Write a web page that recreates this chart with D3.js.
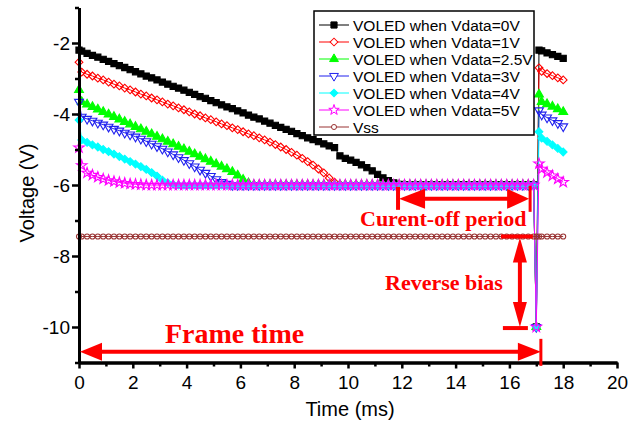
<!DOCTYPE html>
<html>
<head>
<meta charset="utf-8">
<script src="https://cdn.jsdelivr.net/npm/d3@7"></script>
<style>
  body { margin: 0; background: #fff; }
  text { font-family: "Liberation Sans", Arial, sans-serif; }
</style>
</head>
<body>
<div class="canvas"></div>
<script>
// time axis (ms), shared by every series
const time = [0, 0.1, 0.3, 0.5, 0.7, 0.9, 1.1, 1.3, 1.5, 1.7,
  1.9, 2.1, 2.3, 2.5, 2.7, 2.9, 3.1, 3.3, 3.5, 3.7,
  3.9, 4.1, 4.3, 4.5, 4.7, 4.9, 5.1, 5.3, 5.5, 5.7,
  5.9, 6.1, 6.3, 6.5, 6.7, 6.9, 7.1, 7.3, 7.5, 7.7,
  7.9, 8.1, 8.3, 8.5, 8.7, 8.9, 9.1, 9.3, 9.5, 9.7,
  9.9, 10.1, 10.3, 10.5, 10.7, 10.9, 11.1, 11.3, 11.5, 11.7,
  11.9, 12.1, 12.3, 12.5, 12.7, 12.9, 13.1, 13.3, 13.5, 13.7,
  13.9, 14.1, 14.3, 14.5, 14.7, 14.9, 15.1, 15.3, 15.5, 15.7,
  15.9, 16.1, 16.3, 16.5, 16.7, 16.9, 17.0, 17.1, 17.2, 17.4,
  17.6, 17.8, 18.0];

const vdata0 = [-2.2, -2.23, -2.29, -2.35, -2.4, -2.46, -2.52, -2.58, -2.64, -2.69,
  -2.75, -2.81, -2.87, -2.93, -2.98, -3.04, -3.1, -3.16, -3.22, -3.27,
  -3.33, -3.39, -3.45, -3.51, -3.56, -3.62, -3.68, -3.74, -3.8, -3.85,
  -3.91, -3.97, -4.03, -4.09, -4.14, -4.2, -4.26, -4.32, -4.38, -4.43,
  -4.49, -4.55, -4.61, -4.67, -4.72, -4.78, -4.84, -4.9, -4.95, -5.18,
  -5.25, -5.3, -5.36, -5.43, -5.51, -5.6, -5.7, -5.8, -5.88, -5.94,
  -5.98, -6, -6, -6, -6, -6, -6, -6, -6, -6,
  -6, -6, -6, -6, -6, -6, -6, -6, -6, -6,
  -6, -6, -6, -6, -6, -6, -10, -2.2, -2.22, -2.28,
  -2.33, -2.38, -2.43];

const vdata1 = [-2.54, -2.82, -2.88, -2.93, -2.99, -3.04, -3.1, -3.16, -3.21, -3.27,
  -3.32, -3.38, -3.44, -3.49, -3.55, -3.6, -3.66, -3.72, -3.77, -3.83,
  -3.88, -3.94, -4.0, -4.05, -4.11, -4.16, -4.22, -4.28, -4.33, -4.39,
  -4.44, -4.5, -4.56, -4.61, -4.67, -4.73, -4.79, -4.86, -4.93, -5.0,
  -5.08, -5.16, -5.25, -5.34, -5.44, -5.55, -5.66, -5.8, -5.92, -5.98,
  -6, -6, -6, -6, -6, -6, -6, -6, -6, -6,
  -6, -6, -6, -6, -6, -6, -6, -6, -6, -6,
  -6, -6, -6, -6, -6, -6, -6, -6, -6, -6,
  -6, -6, -6, -6, -6, -6, -10, -2.7, -2.8, -2.86,
  -2.92, -2.98, -3.04];

const vdata25 = [-3.32, -3.66, -3.73, -3.8, -3.87, -3.94, -4.01, -4.08, -4.15, -4.22,
  -4.29, -4.36, -4.43, -4.5, -4.57, -4.64, -4.71, -4.78, -4.85, -4.92,
  -4.99, -5.06, -5.13, -5.2, -5.27, -5.34, -5.41, -5.48, -5.55, -5.63,
  -5.73, -5.85, -5.95, -6, -6, -6, -6, -6, -6, -6,
  -6, -6, -6, -6, -6, -6, -6, -6, -6, -6,
  -6, -6, -6, -6, -6, -6, -6, -6, -6, -6,
  -6, -6, -6, -6, -6, -6, -6, -6, -6, -6,
  -6, -6, -6, -6, -6, -6, -6, -6, -6, -6,
  -6, -6, -6, -6, -6, -6, -10, -3.45, -3.66, -3.72,
  -3.79, -3.86, -3.94];

const vdata3 = [-3.66, -4.08, -4.14, -4.19, -4.25, -4.3, -4.36, -4.42, -4.47, -4.53,
  -4.58, -4.64, -4.7, -4.77, -4.84, -4.91, -4.98, -5.06, -5.14, -5.22,
  -5.3, -5.39, -5.48, -5.57, -5.66, -5.75, -5.84, -5.92, -5.97, -6,
  -6, -6, -6, -6, -6, -6, -6, -6, -6, -6,
  -6, -6, -6, -6, -6, -6, -6, -6, -6, -6,
  -6, -6, -6, -6, -6, -6, -6, -6, -6, -6,
  -6, -6, -6, -6, -6, -6, -6, -6, -6, -6,
  -6, -6, -6, -6, -6, -6, -6, -6, -6, -6,
  -6, -6, -6, -6, -6, -6, -10, -3.9, -4.02, -4.1,
  -4.18, -4.26, -4.35];

const vdata4 = [-4.17, -4.73, -4.8, -4.87, -4.93, -5.0, -5.06, -5.13, -5.2, -5.27,
  -5.34, -5.41, -5.48, -5.56, -5.65, -5.75, -5.86, -5.94, -5.98, -6,
  -6, -6, -6, -6, -6, -6, -6, -6, -6, -6,
  -6, -6, -6, -6, -6, -6, -6, -6, -6, -6,
  -6, -6, -6, -6, -6, -6, -6, -6, -6, -6,
  -6, -6, -6, -6, -6, -6, -6, -6, -6, -6,
  -6, -6, -6, -6, -6, -6, -6, -6, -6, -6,
  -6, -6, -6, -6, -6, -6, -6, -6, -6, -6,
  -6, -6, -6, -6, -6, -6, -10, -4.5, -4.68, -4.77,
  -4.87, -4.97, -5.07];

const vdata5 = [-4.95, -5.45, -5.66, -5.72, -5.78, -5.83, -5.87, -5.9, -5.93, -5.95,
  -5.97, -5.98, -5.99, -6, -6, -6, -6, -6, -6, -6,
  -6, -6, -6, -6, -6, -6, -6, -6, -6, -6,
  -6, -6, -6, -6, -6, -6, -6, -6, -6, -6,
  -6, -6, -6, -6, -6, -6, -6, -6, -6, -6,
  -6, -6, -6, -6, -6, -6, -6, -6, -6, -6,
  -6, -6, -6, -6, -6, -6, -6, -6, -6, -6,
  -6, -6, -6, -6, -6, -6, -6, -6, -6, -6,
  -6, -6, -6, -6, -6, -6, -10, -5.4, -5.55, -5.65,
  -5.74, -5.83, -5.92];

const vss = [-7.45, -7.45, -7.45, -7.45, -7.45, -7.45, -7.45, -7.45, -7.45, -7.45,
  -7.45, -7.45, -7.45, -7.45, -7.45, -7.45, -7.45, -7.45, -7.45, -7.45,
  -7.45, -7.45, -7.45, -7.45, -7.45, -7.45, -7.45, -7.45, -7.45, -7.45,
  -7.45, -7.45, -7.45, -7.45, -7.45, -7.45, -7.45, -7.45, -7.45, -7.45,
  -7.45, -7.45, -7.45, -7.45, -7.45, -7.45, -7.45, -7.45, -7.45, -7.45,
  -7.45, -7.45, -7.45, -7.45, -7.45, -7.45, -7.45, -7.45, -7.45, -7.45,
  -7.45, -7.45, -7.45, -7.45, -7.45, -7.45, -7.45, -7.45, -7.45, -7.45,
  -7.45, -7.45, -7.45, -7.45, -7.45, -7.45, -7.45, -7.45, -7.45, -7.45,
  -7.45, -7.45, -7.45, -7.45, -7.45, -7.45, -7.45, -7.45, -7.45, -7.45,
  -7.45, -7.45, -7.45];

const seriesNames = ["VOLED when Vdata=0V", "VOLED when Vdata=1V", "VOLED when Vdata=2.5V",
  "VOLED when Vdata=3V", "VOLED when Vdata=4V", "VOLED when Vdata=5V", "Vss"];

const xTicks = [0, 2, 4, 6, 8, 10, 12, 14, 16, 18, 20];
const xMinor = [1, 3, 5, 7, 9, 11, 13, 15, 17, 19];
const yTicks = [-10, -8, -6, -4, -2];
const yMinor = [-11, -9, -7, -5, -3, -1];

const series = [
  { name: seriesNames[0], values: vdata0, color: "#000000", type: d3.symbolSquare, size: 38, rot: 0, fill: true },
  { name: seriesNames[1], values: vdata1, color: "#ff0000", type: d3.symbolSquare, size: 30, rot: 45, fill: false },
  { name: seriesNames[2], values: vdata25, color: "#00ff00", type: d3.symbolTriangle, size: 34, rot: 0, fill: true },
  { name: seriesNames[3], values: vdata3, color: "#2020ee", type: d3.symbolTriangle, size: 34, rot: 180, fill: false },
  { name: seriesNames[4], values: vdata4, color: "#00ffff", type: d3.symbolSquare, size: 30, rot: 45, fill: true },
  { name: seriesNames[5], values: vdata5, color: "#ff00ff", type: d3.symbolStar, size: 34, rot: 0, fill: false },
  { name: seriesNames[6], values: vss, color: "#993333", type: d3.symbolCircle, size: 20, rot: 0, fill: false },
];

const svg = d3.select(".canvas").append("svg").attr("width", 644).attr("height", 428);

let x = d3.scaleLinear().domain([0, 20]).range([79, 617]);
let y = d3.scaleLinear().domain([-11, -1]).range([362.5, 7.5]);

// data lines + markers
let line = d3.line().x((d) => x(d[0])).y((d) => y(d[1]));
series.forEach((s) => {
  let pts = time.map((t, i) => [t, s.values[i]]);
  let g = svg.append("g");
  g.append("path")
    .attr("d", line(pts))
    .attr("fill", "none")
    .attr("stroke", s.color)
    .attr("stroke-width", 1);
  let sym = d3.symbol().type(s.type).size(s.size);
  g.selectAll("path.m")
    .data(pts)
    .join("path")
    .attr("class", "m")
    .attr("d", sym)
    .attr("transform", (d) => `translate(${x(d[0])},${y(d[1])}) rotate(${s.rot})`)
    .attr("fill", s.fill ? s.color : "none")
    .attr("stroke", s.color)
    .attr("stroke-width", 1.1);
});

// axes (plain hyphen minus like the original)
let fmt = (d) => String(d);
let styleAxis = (g) => {
  g.select(".domain").attr("stroke-width", 3);
  g.selectAll(".tick line").attr("stroke-width", 2.5);
  g.selectAll(".tick text").style("font-size", "19px").attr("fill", "#000");
};
svg.append("g").attr("transform", "translate(0,362.5)")
  .call(d3.axisBottom(x).tickValues(xMinor).tickSize(4).tickSizeOuter(0).tickFormat(""))
  .call(styleAxis);
svg.append("g").attr("transform", "translate(0,362.5)")
  .call(d3.axisBottom(x).tickValues(xTicks).tickSize(6).tickSizeOuter(0).tickPadding(7).tickFormat(fmt))
  .call(styleAxis);
svg.append("g").attr("transform", "translate(79,0)")
  .call(d3.axisLeft(y).tickValues(yMinor).tickSize(4).tickSizeOuter(0).tickFormat(""))
  .call(styleAxis);
svg.append("g").attr("transform", "translate(79,0)")
  .call(d3.axisLeft(y).tickValues(yTicks).tickSize(7).tickSizeOuter(0).tickPadding(2).tickFormat(fmt))
  .call(styleAxis);

svg.append("text")
  .attr("transform", "translate(34,193) rotate(-90)")
  .attr("text-anchor", "middle")
  .style("font-size", "20px")
  .text("Voltage (V)");
svg.append("text")
  .attr("x", 350).attr("y", 416)
  .attr("text-anchor", "middle")
  .style("font-size", "20px")
  .text("Time (ms)");

// legend
let legend = svg.append("g");
legend.append("rect")
  .attr("x", 314).attr("y", 11).attr("width", 220).attr("height", 124)
  .attr("fill", "#fff").attr("stroke", "#000").attr("stroke-width", 1.5);
series.forEach((s, i) => {
  let ly = 25 + i * 17;
  legend.append("line")
    .attr("x1", 319).attr("x2", 349).attr("y1", ly).attr("y2", ly)
    .attr("stroke", s.color).attr("stroke-width", 1);
  legend.append("path")
    .attr("d", d3.symbol().type(s.type).size(s.size)())
    .attr("transform", `translate(334,${ly}) rotate(${s.rot})`)
    .attr("fill", s.fill ? s.color : "#fff")
    .attr("stroke", s.color);
  legend.append("text")
    .attr("x", 353).attr("y", ly + 5.5)
    .style("font-size", "15.5px")
    .text(s.name);
});

// annotations
const red = "#ff0000";
let ann = svg.append("g");
let seg = (x1, y1, x2, y2, w) =>
  ann.append("line").attr("x1", x1).attr("y1", y1).attr("x2", x2).attr("y2", y2)
    .attr("stroke", red).attr("stroke-width", w);
let head = (pts) => ann.append("polygon").attr("points", pts.map((p) => p.join(",")).join(" ")).attr("fill", red);

// frame time
let fy = y(-10.7), fx0 = x(0), fx1 = x(17.17);
seg(fx0 + 15, fy, fx1 - 15, fy, 4);
head([[fx0 + 1, fy], [fx0 + 23, fy - 9], [fx0 + 23, fy + 9]]);
head([[fx1, fy], [fx1 - 23, fy - 9], [fx1 - 23, fy + 9]]);
seg(fx1, fy - 13, fx1, fy + 14, 3);

// current-off period
let cy = y(-6.39), cx0 = x(11.86), cx1 = x(16.77);
seg(cx0, cy - 12, cx0, cy + 11, 4);
seg(cx1, cy - 13, cx1, cy + 13, 3);
seg(cx0 + 15, cy, cx1 - 15, cy, 4);
head([[cx0 + 1, cy], [cx0 + 27, cy - 10], [cx0 + 27, cy + 10]]);
head([[cx1 - 1, cy], [cx1 - 23, cy - 10], [cx1 - 23, cy + 10]]);

// reverse bias
let rx = x(16.39), ry0 = y(-7.45), ry1 = y(-10.03);
seg(rx - 19, ry0, rx + 13, ry0, 4);
seg(rx - 17, ry1, rx + 8, ry1, 4);
seg(rx, ry0 + 15, rx, ry1 - 15, 4);
head([[rx, ry0 + 1], [rx - 7, ry0 + 26], [rx + 7, ry0 + 26]]);
head([[rx, ry1 - 1], [rx - 7, ry1 - 26], [rx + 7, ry1 - 26]]);

let annText = (tx, ty, size, str) =>
  ann.append("text").attr("x", tx).attr("y", ty)
    .style("font-family", "'Liberation Serif', 'Times New Roman', serif")
    .style("font-weight", "bold").style("font-size", size)
    .attr("fill", red).text(str);
annText(165, 343, "28px", "Frame time");
annText(360, 226, "22px", "Curent-off period");
annText(385, 290, "22px", "Reverse bias");
</script>
</body>
</html>
